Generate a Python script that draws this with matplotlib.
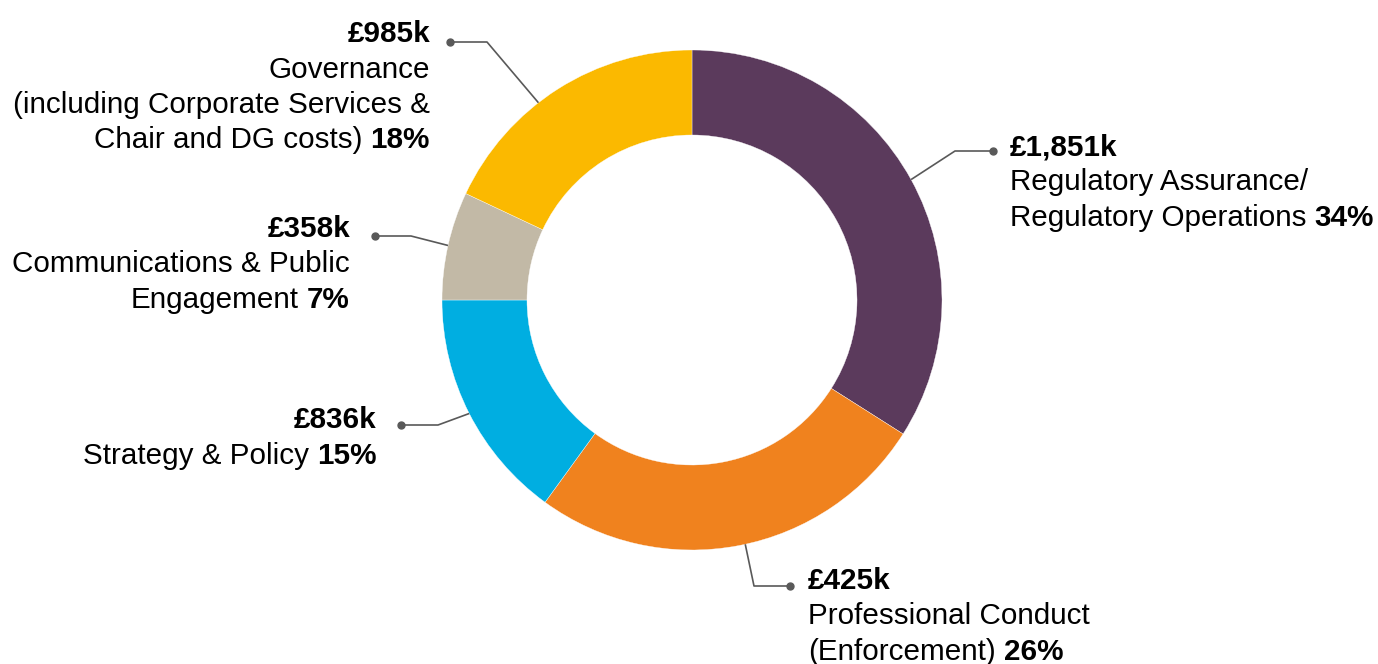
import matplotlib
matplotlib.use('Agg')
import matplotlib.pyplot as plt
import numpy as np

plt.rcParams['font.family'] = ['Liberation Sans', 'DejaVu Sans']

# ---- data ----
categories = ['Regulatory Assurance/\nRegulatory Operations',
              'Professional Conduct\n(Enforcement)',
              'Strategy & Policy',
              'Communications & Public\nEngagement',
              'Governance\n(including Corporate Services &\nChair and DG costs)']
amounts = ['£1,851k', '£425k', '£836k', '£358k', '£985k']
percents = [34, 26, 15, 7, 18]
colors = ['#5B3A5C', '#F0821E', '#00AEE1', '#C2B9A6', '#FBB900']

W, H = 1378, 664
fig = plt.figure(figsize=(W / 100, H / 100), dpi=100)
ax = fig.add_axes([0, 0, 1, 1])

cx, cy, R, ring = 692, H - 300, 250, 85
wedges, _ = ax.pie(percents, colors=colors, startangle=90, counterclock=False,
                   center=(cx, cy), radius=R, frame=True,
                   wedgeprops=dict(width=ring, edgecolor='white', linewidth=0.25))
ax.set_xlim(0, W)
ax.set_ylim(0, H)
ax.set_aspect('equal')
ax.axis('off')

FS = 21.3
LINE = 35.5
lc = '#595959'

# layout: (anchor angle shift, elbow x, elbow y, dot x, dot y, text x, first-line y, ha)
layout = [
    (0, 955, 151, 993, 151, 1010, 147, 'left'),
    (1.5, 754, 586, 790, 586, 808, 581, 'left'),
    (0, 438, 425, 401, 425, 377, 420, 'right'),
    (0, 411, 236, 375, 236, 350, 229, 'right'),
    (5.5, 487, 42, 450, 42, 430, 34, 'right'),
]

fig.canvas.draw()
renderer = fig.canvas.get_renderer()


def width_of(s, weight='normal'):
    t = ax.text(0, 0, s, fontsize=FS, fontweight=weight)
    w = t.get_window_extent(renderer).width
    t.remove()
    return w


space_w = width_of('a a') - width_of('aa')

angles = []
acc = 0
total = sum(percents)
for p in percents:
    mid = 90 - (acc + p / 2) / total * 360
    angles.append(mid)
    acc += p

for i, (cat, amt, pct) in enumerate(zip(categories, amounts, percents)):
    shift, ex, ey, dx, dy, tx, ty, ha = layout[i]
    a = np.deg2rad(angles[i] + shift)
    px, py = cx + R * np.cos(a), cy + R * np.sin(a)
    ax.plot([px, ex, dx], [py, H - ey, H - dy], color=lc, lw=1.2,
            solid_capstyle='butt', zorder=3)
    ax.plot([dx], [H - dy], 'o', color=lc, ms=5, zorder=4)

    lines = cat.split('\n')
    ax.text(tx, H - ty, amt, fontsize=FS, fontweight='bold', ha=ha, va='center')
    for j, ln in enumerate(lines):
        yy = H - ty - (j + 1) * LINE
        last = j == len(lines) - 1
        if ha == 'left':
            t = ax.text(tx, yy, ln, fontsize=FS, ha='left', va='center')
            if last:
                ext = t.get_window_extent(renderer)
                ax.text(ext.x1 + space_w, yy, f'{pct}%', fontsize=FS,
                        fontweight='bold', ha='left', va='center')
        else:
            if last:
                b = ax.text(tx, yy, f'{pct}%', fontsize=FS, fontweight='bold',
                            ha='right', va='center')
                ext = b.get_window_extent(renderer)
                ax.text(ext.x0 - space_w, yy, ln, fontsize=FS, ha='right',
                        va='center')
            else:
                ax.text(tx, yy, ln, fontsize=FS, ha='right', va='center')

fig.savefig('out.png', dpi=100)
